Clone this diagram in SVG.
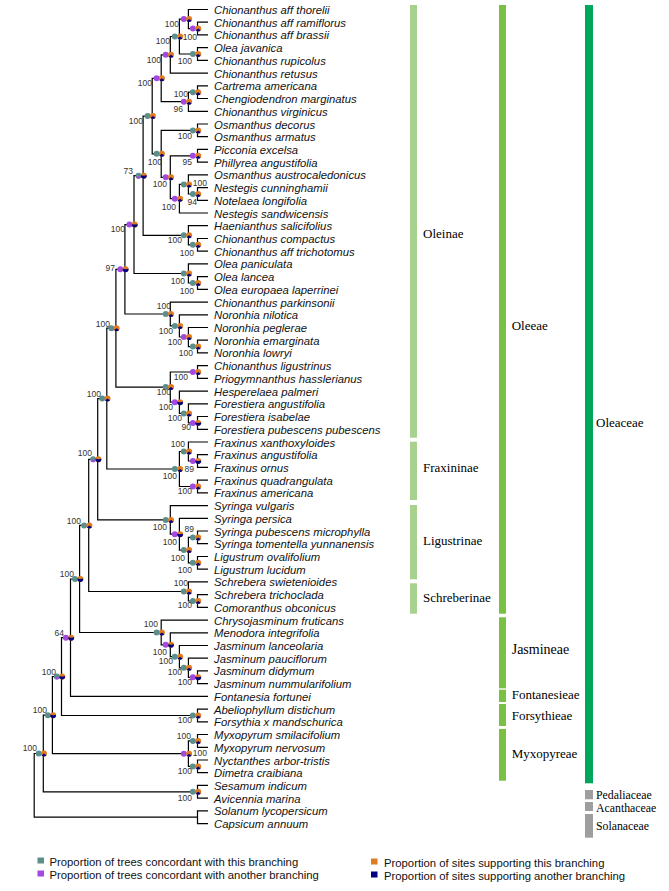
<svg xmlns="http://www.w3.org/2000/svg" width="669" height="891" viewBox="0 0 669 891">
<style>
.tip{font-family:"Liberation Sans",Arial,sans-serif;font-style:italic;font-size:11.3px;fill:#111}
.bs{font-family:"Liberation Sans",Arial,sans-serif;font-size:8.5px;fill:#333;text-anchor:end}
.grp{font-family:"Liberation Serif","Times New Roman",serif;font-size:13px;fill:#000}
.fam{font-family:"Liberation Serif","Times New Roman",serif;font-size:11.8px;fill:#000}
.leg{font-family:"Liberation Sans",Arial,sans-serif;font-size:11.3px;fill:#111}
.edge{fill:none;stroke:#000;stroke-width:1.2}
</style>
<defs>
<g id="gT"><circle r="3" fill="#5a8f8c"/></g>
<g id="gP"><circle r="3" fill="#a349e0"/></g>
<g id="gTP"><circle r="3" fill="#5a8f8c"/><path d="M0,0 L2.427,1.763 A3,3 0 0,1 -2.427,1.763Z" fill="#a349e0"/></g>
<g id="sA"><circle r="3" fill="#e07b20"/><path d="M0,0 L2.427,1.763 A3,3 0 0,1 -2.427,1.763Z" fill="#000080"/></g>
<g id="sB"><circle r="3" fill="#e07b20"/><path d="M0,0 L2.963,-0.469 A3,3 0 1,1 -2.963,-0.469Z" fill="#000080"/></g>
</defs>
<rect width="669" height="891" fill="#fff"/>

<g id="connectors" class="edge">
<path d="M208,22.2 H197.5 V34.9 H208"/>
<path d="M208,9.5 H188.4 V28.6 H197.5"/>
<path d="M208,47.7 H197.5 V60.4 H208"/>
<path d="M188.4,19.05 H179.4 V54 H197.5"/>
<path d="M179.4,36.5 H170.3 V73.1 H208"/>
<path d="M208,85.8 H197.5 V98.5 H208"/>
<path d="M197.5,92.2 H188.4 V111.3 H208"/>
<path d="M170.3,54.8 H161.2 V101.7 H188.4"/>
<path d="M208,124 H197.5 V136.7 H208"/>
<path d="M208,149.4 H197.5 V162.1 H208"/>
<path d="M208,187.6 H197.5 V200.3 H208"/>
<path d="M208,174.9 H188.4 V194 H197.5"/>
<path d="M188.4,184.4 H179.4 V213 H208"/>
<path d="M197.5,155.8 H170.3 V198.7 H179.4"/>
<path d="M197.5,130.4 H161.2 V177.3 H170.3"/>
<path d="M161.2,78.3 H152.2 V153.8 H161.2"/>
<path d="M208,238.5 H197.5 V251.2 H208"/>
<path d="M208,225.7 H188.4 V244.8 H197.5"/>
<path d="M152.2,116.1 H143.1 V235.3 H188.4"/>
<path d="M208,276.6 H197.5 V289.3 H208"/>
<path d="M208,263.9 H188.4 V283 H197.5"/>
<path d="M143.1,175.7 H134 V273.5 H188.4"/>
<path d="M208,340.2 H197.5 V352.9 H208"/>
<path d="M208,327.5 H188.4 V346.6 H197.5"/>
<path d="M208,314.8 H179.4 V337 H188.4"/>
<path d="M208,302.1 H170.3 V325.9 H179.4"/>
<path d="M134,224.6 H124.9 V314 H170.3"/>
<path d="M208,365.7 H197.5 V378.4 H208"/>
<path d="M208,416.5 H197.5 V429.3 H208"/>
<path d="M208,403.8 H188.4 V422.9 H197.5"/>
<path d="M208,391.1 H179.4 V413.4 H188.4"/>
<path d="M197.5,372 H170.3 V402.2 H179.4"/>
<path d="M124.9,269.3 H115.9 V387.1 H170.3"/>
<path d="M208,454.7 H197.5 V467.4 H208"/>
<path d="M208,442 H188.4 V461 H197.5"/>
<path d="M208,480.1 H197.5 V492.9 H208"/>
<path d="M188.4,451.5 H179.4 V486.5 H197.5"/>
<path d="M115.9,328.2 H106.8 V469 H179.4"/>
<path d="M208,531 H197.5 V543.7 H208"/>
<path d="M208,556.5 H197.5 V569.2 H208"/>
<path d="M197.5,537.4 H188.4 V562.8 H197.5"/>
<path d="M208,518.3 H179.4 V550.1 H188.4"/>
<path d="M208,505.6 H170.3 V534.2 H179.4"/>
<path d="M106.8,398.6 H97.7 V519.9 H170.3"/>
<path d="M208,594.6 H197.5 V607.3 H208"/>
<path d="M208,581.9 H188.4 V601 H197.5"/>
<path d="M97.7,459.3 H88.7 V591.5 H188.4"/>
<path d="M208,670.9 H197.5 V683.7 H208"/>
<path d="M208,658.2 H188.4 V677.3 H197.5"/>
<path d="M208,645.5 H179.4 V667.8 H188.4"/>
<path d="M208,632.8 H170.3 V656.7 H179.4"/>
<path d="M208,620.1 H161.2 V644.8 H170.3"/>
<path d="M88.7,525.4 H79.6 V632.5 H161.2"/>
<path d="M79.6,579 H70.5 V696.4 H208"/>
<path d="M208,709.1 H197.5 V721.8 H208"/>
<path d="M70.5,637.7 H61.5 V715.5 H197.5"/>
<path d="M208,734.5 H197.5 V747.3 H208"/>
<path d="M208,760 H197.5 V772.7 H208"/>
<path d="M197.5,740.9 H188.4 V766.4 H197.5"/>
<path d="M61.5,676.6 H52.4 V753.7 H188.4"/>
<path d="M208,785.4 H197.5 V798.1 H208"/>
<path d="M52.4,715.2 H43.3 V791.8 H197.5"/>
<path d="M208,810.9 H197.5 V823.6 H208"/>
<path d="M43.3,753.5 H34.2 V817.2 H197.5"/>
</g>

<g id="internal-nodes">
<g id="n23"><use href="#gP" x="192.9" y="28.6"/><use href="#sA" x="198.2" y="28.6"/><text class="bs" x="197" y="39.7">100</text></g>
<g id="n1-3"><use href="#gP" x="183.8" y="19.05"/><use href="#sA" x="189.1" y="19.05"/><text class="bs" x="179" y="27">100</text></g>
<g id="n45"><use href="#gT" x="192.9" y="54"/><use href="#sA" x="198.2" y="54"/><text class="bs" x="192" y="64">100</text></g>
<g id="n1-5"><use href="#gT" x="174.8" y="36.5"/><use href="#sA" x="180.1" y="36.5"/><text class="bs" x="170" y="44">100</text></g>
<g id="n1-6"><use href="#gP" x="165.7" y="54.8"/><use href="#sA" x="171" y="54.8"/><text class="bs" x="161" y="63">100</text></g>
<g id="n78"><use href="#gT" x="192.9" y="92.2"/><use href="#sA" x="198.2" y="92.2"/><text class="bs" x="188" y="97">100</text></g>
<g id="n7-9"><use href="#gP" x="183.8" y="101.7"/><use href="#sA" x="189.1" y="101.7"/><text class="bs" x="183" y="112">96</text></g>
<g id="n1-9"><use href="#gP" x="156.6" y="78.3"/><use href="#sA" x="161.9" y="78.3"/><text class="bs" x="152" y="85.7">100</text></g>
<g id="n10-11"><use href="#gT" x="192.9" y="130.4"/><use href="#sA" x="198.2" y="130.4"/><text class="bs" x="192" y="138.7">100</text></g>
<g id="n12-13"><use href="#gP" x="192.9" y="155.8"/><use href="#sA" x="198.2" y="155.8"/><text class="bs" x="192" y="164.7">95</text></g>
<g id="n15-16"><use href="#gT" x="192.9" y="194"/><use href="#sA" x="198.2" y="194"/><text class="bs" x="197" y="204.7">94</text></g>
<g id="n14-16"><use href="#gT" x="183.8" y="184.4"/><use href="#sA" x="189.1" y="184.4"/><text class="bs" x="207" y="185.7">100</text></g>
<g id="n14-17"><use href="#gP" x="174.8" y="198.7"/><use href="#sA" x="180.1" y="198.7"/><text class="bs" x="176" y="209.7">100</text></g>
<g id="n12-17"><use href="#gP" x="165.7" y="177.3"/><use href="#sA" x="171" y="177.3"/><text class="bs" x="167" y="187">100</text></g>
<g id="n10-17"><use href="#gT" x="156.6" y="153.8"/><use href="#sA" x="161.9" y="153.8"/><text class="bs" x="162" y="164.7">100</text></g>
<g id="n1-17"><use href="#gT" x="147.6" y="116.1"/><use href="#sA" x="152.9" y="116.1"/><text class="bs" x="143" y="123.7">100</text></g>
<g id="n19-20"><use href="#gT" x="192.9" y="244.8"/><use href="#sA" x="198.2" y="244.8"/><text class="bs" x="194" y="255.7">100</text></g>
<g id="n18-20"><use href="#gT" x="183.8" y="235.3"/><use href="#sA" x="189.1" y="235.3"/><text class="bs" x="182" y="243">100</text></g>
<g id="n1-20"><use href="#gTP" x="138.5" y="175.7"/><use href="#sB" x="143.8" y="175.7"/><text class="bs" x="133" y="174">73</text></g>
<g id="n22-23"><use href="#gT" x="192.9" y="283"/><use href="#sA" x="198.2" y="283"/><text class="bs" x="194" y="293.7">100</text></g>
<g id="n21-23"><use href="#gT" x="183.8" y="273.5"/><use href="#sA" x="189.1" y="273.5"/><text class="bs" x="185" y="284">100</text></g>
<g id="n1-23"><use href="#gP" x="129.4" y="224.6"/><use href="#sB" x="134.7" y="224.6"/><text class="bs" x="125" y="232">100</text></g>
<g id="n27-28"><use href="#gT" x="192.9" y="346.6"/><use href="#sA" x="198.2" y="346.6"/><text class="bs" x="193" y="355.7">100</text></g>
<g id="n26-28"><use href="#gP" x="183.8" y="337"/><use href="#sA" x="189.1" y="337"/><text class="bs" x="182" y="345">100</text></g>
<g id="n25-28"><use href="#gT" x="174.8" y="325.9"/><use href="#sA" x="180.1" y="325.9"/><text class="bs" x="173" y="333.7">100</text></g>
<g id="n24-28"><use href="#gT" x="165.7" y="314"/><use href="#sA" x="171" y="314"/><text class="bs" x="171" y="309">100</text></g>
<g id="n1-28"><use href="#gP" x="120.3" y="269.3"/><use href="#sB" x="125.6" y="269.3"/><text class="bs" x="115" y="271.3">97</text></g>
<g id="n29-30"><use href="#gP" x="192.9" y="372"/><use href="#sA" x="198.2" y="372"/><text class="bs" x="188" y="379.7">100</text></g>
<g id="n33-34"><use href="#gP" x="192.9" y="422.9"/><use href="#sB" x="198.2" y="422.9"/><text class="bs" x="191" y="429.7">90</text></g>
<g id="n32-34"><use href="#gT" x="183.8" y="413.4"/><use href="#sA" x="189.1" y="413.4"/><text class="bs" x="182" y="420.7">100</text></g>
<g id="n31-34"><use href="#gP" x="174.8" y="402.2"/><use href="#sB" x="180.1" y="402.2"/><text class="bs" x="173" y="409.7">100</text></g>
<g id="n29-34"><use href="#gT" x="165.7" y="387.1"/><use href="#sA" x="171" y="387.1"/><text class="bs" x="171" y="394.7">100</text></g>
<g id="n1-34"><use href="#gT" x="111.3" y="328.2"/><use href="#sA" x="116.6" y="328.2"/><text class="bs" x="110" y="327">100</text></g>
<g id="n36-37"><use href="#gP" x="192.9" y="461"/><use href="#sB" x="198.2" y="461"/><text class="bs" x="194" y="472">89</text></g>
<g id="n35-37"><use href="#gT" x="183.8" y="451.5"/><use href="#sA" x="189.1" y="451.5"/><text class="bs" x="185" y="447">100</text></g>
<g id="n38-39"><use href="#gP" x="192.9" y="486.5"/><use href="#sA" x="198.2" y="486.5"/><text class="bs" x="192" y="494">100</text></g>
<g id="n35-39"><use href="#gT" x="174.8" y="469"/><use href="#sA" x="180.1" y="469"/><text class="bs" x="177" y="478.7">100</text></g>
<g id="n1-39"><use href="#gT" x="102.2" y="398.6"/><use href="#sA" x="107.5" y="398.6"/><text class="bs" x="101" y="397">100</text></g>
<g id="n42-43"><use href="#gT" x="192.9" y="537.4"/><use href="#sA" x="198.2" y="537.4"/><text class="bs" x="194" y="532">89</text></g>
<g id="n44-45"><use href="#gT" x="192.9" y="562.8"/><use href="#sA" x="198.2" y="562.8"/><text class="bs" x="192" y="573">100</text></g>
<g id="n42-45"><use href="#gT" x="183.8" y="550.1"/><use href="#sA" x="189.1" y="550.1"/><text class="bs" x="185" y="560.7">100</text></g>
<g id="n41-45"><use href="#gP" x="174.8" y="534.2"/><use href="#sB" x="180.1" y="534.2"/><text class="bs" x="177" y="544.7">100</text></g>
<g id="n40-45"><use href="#gT" x="165.7" y="519.9"/><use href="#sA" x="171" y="519.9"/><text class="bs" x="167" y="529.7">100</text></g>
<g id="n1-45"><use href="#gTP" x="93.1" y="459.3"/><use href="#sB" x="98.4" y="459.3"/><text class="bs" x="92" y="455.7">100</text></g>
<g id="n47-48"><use href="#gT" x="192.9" y="601"/><use href="#sA" x="198.2" y="601"/><text class="bs" x="192" y="608">100</text></g>
<g id="n46-48"><use href="#gT" x="183.8" y="591.5"/><use href="#sA" x="189.1" y="591.5"/><text class="bs" x="188" y="585.7">100</text></g>
<g id="n1-48"><use href="#gT" x="84.1" y="525.4"/><use href="#sA" x="89.4" y="525.4"/><text class="bs" x="81" y="523.7">100</text></g>
<g id="n53-54"><use href="#gP" x="192.9" y="677.3"/><use href="#sB" x="198.2" y="677.3"/><text class="bs" x="192" y="684.7">100</text></g>
<g id="n52-54"><use href="#gT" x="183.8" y="667.8"/><use href="#sA" x="189.1" y="667.8"/><text class="bs" x="182" y="675.3">100</text></g>
<g id="n51-54"><use href="#gT" x="174.8" y="656.7"/><use href="#sA" x="180.1" y="656.7"/><text class="bs" x="173" y="663.7">100</text></g>
<g id="n50-54"><use href="#gP" x="165.7" y="644.8"/><use href="#sB" x="171" y="644.8"/><text class="bs" x="167" y="654.7">100</text></g>
<g id="n49-54"><use href="#gT" x="156.6" y="632.5"/><use href="#sA" x="161.9" y="632.5"/><text class="bs" x="158" y="627">100</text></g>
<g id="n1-54"><use href="#gT" x="75" y="579"/><use href="#sB" x="80.3" y="579"/><text class="bs" x="74" y="577">100</text></g>
<g id="n1-55"><use href="#gP" x="65.9" y="637.7"/><use href="#sB" x="71.2" y="637.7"/><text class="bs" x="64" y="635.7">64</text></g>
<g id="n56-57"><use href="#gT" x="192.9" y="715.5"/><use href="#sA" x="198.2" y="715.5"/><text class="bs" x="192" y="723">100</text></g>
<g id="n1-57"><use href="#gTP" x="56.9" y="676.6"/><use href="#sB" x="62.2" y="676.6"/><text class="bs" x="56" y="675.3">100</text></g>
<g id="n58-59"><use href="#gT" x="192.9" y="740.9"/><use href="#sA" x="198.2" y="740.9"/><text class="bs" x="191" y="739">100</text></g>
<g id="n60-61"><use href="#gT" x="192.9" y="766.4"/><use href="#sA" x="198.2" y="766.4"/><text class="bs" x="192" y="773.7">100</text></g>
<g id="n58-61"><use href="#gP" x="183.8" y="753.7"/><use href="#sA" x="189.1" y="753.7"/><text class="bs" x="207" y="756.3">100</text></g>
<g id="n1-61"><use href="#gT" x="47.8" y="715.2"/><use href="#sB" x="53.1" y="715.2"/><text class="bs" x="47" y="713">100</text></g>
<g id="n62-63"><use href="#gT" x="192.9" y="791.8"/><use href="#sA" x="198.2" y="791.8"/><text class="bs" x="192" y="800.7">100</text></g>
<g id="n1-63"><use href="#gT" x="38.7" y="753.5"/><use href="#sA" x="44" y="753.5"/><text class="bs" x="37" y="751.3">100</text></g>
</g>

<g id="leaves" class="tip">
<g id="leaf01"><text x="214" y="14">Chionanthus aff thorelii</text></g>
<g id="leaf02"><text x="214" y="26.7">Chionanthus aff ramiflorus</text></g>
<g id="leaf03"><text x="214" y="39.4">Chionanthus aff brassii</text></g>
<g id="leaf04"><text x="214" y="52.2">Olea javanica</text></g>
<g id="leaf05"><text x="214" y="64.9">Chionanthus rupicolus</text></g>
<g id="leaf06"><text x="214" y="77.6">Chionanthus retusus</text></g>
<g id="leaf07"><text x="214" y="90.3">Cartrema americana</text></g>
<g id="leaf08"><text x="214" y="103">Chengiodendron marginatus</text></g>
<g id="leaf09"><text x="214" y="115.8">Chionanthus virginicus</text></g>
<g id="leaf10"><text x="214" y="128.5">Osmanthus decorus</text></g>
<g id="leaf11"><text x="214" y="141.2">Osmanthus armatus</text></g>
<g id="leaf12"><text x="214" y="153.9">Picconia excelsa</text></g>
<g id="leaf13"><text x="214" y="166.6">Phillyrea angustifolia</text></g>
<g id="leaf14"><text x="214" y="179.4">Osmanthus austrocaledonicus</text></g>
<g id="leaf15"><text x="214" y="192.1">Nestegis cunninghamii</text></g>
<g id="leaf16"><text x="214" y="204.8">Notelaea longifolia</text></g>
<g id="leaf17"><text x="214" y="217.5">Nestegis sandwicensis</text></g>
<g id="leaf18"><text x="214" y="230.2">Haenianthus salicifolius</text></g>
<g id="leaf19"><text x="214" y="243">Chionanthus compactus</text></g>
<g id="leaf20"><text x="214" y="255.7">Chionanthus aff trichotomus</text></g>
<g id="leaf21"><text x="214" y="268.4">Olea paniculata</text></g>
<g id="leaf22"><text x="214" y="281.1">Olea lancea</text></g>
<g id="leaf23"><text x="214" y="293.8">Olea europaea laperrinei</text></g>
<g id="leaf24"><text x="214" y="306.6">Chionanthus parkinsonii</text></g>
<g id="leaf25"><text x="214" y="319.3">Noronhia nilotica</text></g>
<g id="leaf26"><text x="214" y="332">Noronhia peglerae</text></g>
<g id="leaf27"><text x="214" y="344.7">Noronhia emarginata</text></g>
<g id="leaf28"><text x="214" y="357.4">Noronhia lowryi</text></g>
<g id="leaf29"><text x="214" y="370.2">Chionanthus ligustrinus</text></g>
<g id="leaf30"><text x="214" y="382.9">Priogymnanthus hasslerianus</text></g>
<g id="leaf31"><text x="214" y="395.6">Hesperelaea palmeri</text></g>
<g id="leaf32"><text x="214" y="408.3">Forestiera angustifolia</text></g>
<g id="leaf33"><text x="214" y="421">Forestiera isabelae</text></g>
<g id="leaf34"><text x="214" y="433.8">Forestiera pubescens pubescens</text></g>
<g id="leaf35"><text x="214" y="446.5">Fraxinus xanthoxyloides</text></g>
<g id="leaf36"><text x="214" y="459.2">Fraxinus angustifolia</text></g>
<g id="leaf37"><text x="214" y="471.9">Fraxinus ornus</text></g>
<g id="leaf38"><text x="214" y="484.6">Fraxinus quadrangulata</text></g>
<g id="leaf39"><text x="214" y="497.4">Fraxinus americana</text></g>
<g id="leaf40"><text x="214" y="510.1">Syringa vulgaris</text></g>
<g id="leaf41"><text x="214" y="522.8">Syringa persica</text></g>
<g id="leaf42"><text x="214" y="535.5">Syringa pubescens microphylla</text></g>
<g id="leaf43"><text x="214" y="548.2">Syringa tomentella yunnanensis</text></g>
<g id="leaf44"><text x="214" y="561">Ligustrum ovalifolium</text></g>
<g id="leaf45"><text x="214" y="573.7">Ligustrum lucidum</text></g>
<g id="leaf46"><text x="214" y="586.4">Schrebera swietenioides</text></g>
<g id="leaf47"><text x="214" y="599.1">Schrebera trichoclada</text></g>
<g id="leaf48"><text x="214" y="611.8">Comoranthus obconicus</text></g>
<g id="leaf49"><text x="214" y="624.6">Chrysojasminum fruticans</text></g>
<g id="leaf50"><text x="214" y="637.3">Menodora integrifolia</text></g>
<g id="leaf51"><text x="214" y="650">Jasminum lanceolaria</text></g>
<g id="leaf52"><text x="214" y="662.7">Jasminum pauciflorum</text></g>
<g id="leaf53"><text x="214" y="675.4">Jasminum didymum</text></g>
<g id="leaf54"><text x="214" y="688.2">Jasminum nummularifolium</text></g>
<g id="leaf55"><text x="214" y="700.9">Fontanesia fortunei</text></g>
<g id="leaf56"><text x="214" y="713.6">Abeliophyllum distichum</text></g>
<g id="leaf57"><text x="214" y="726.3">Forsythia x mandschurica</text></g>
<g id="leaf58"><text x="214" y="739">Myxopyrum smilacifolium</text></g>
<g id="leaf59"><text x="214" y="751.8">Myxopyrum nervosum</text></g>
<g id="leaf60"><text x="214" y="764.5">Nyctanthes arbor-tristis</text></g>
<g id="leaf61"><text x="214" y="777.2">Dimetra craibiana</text></g>
<g id="leaf62"><text x="214" y="789.9">Sesamum indicum</text></g>
<g id="leaf63"><text x="214" y="802.6">Avicennia marina</text></g>
<g id="leaf64"><text x="214" y="815.4">Solanum lycopersicum</text></g>
<g id="leaf65"><text x="214" y="828.1">Capsicum annuum</text></g>
</g>

<g id="clades">
<g id="oleinae"><rect x="410" y="5" width="7" height="432.7" fill="#a9d18e"/><text class="grp" x="423" y="238">Oleinae</text></g>
<g id="fraxininae"><rect x="410" y="441.7" width="7" height="58.3" fill="#a9d18e"/><text class="grp" x="423" y="472">Fraxininae</text></g>
<g id="ligustrinae"><rect x="410" y="505" width="7" height="74.3" fill="#a9d18e"/><text class="grp" x="423" y="544.5">Ligustrinae</text></g>
<g id="schreberinae"><rect x="410" y="583.3" width="7" height="30.4" fill="#a9d18e"/><text class="grp" x="423" y="601.6">Schreberinae</text></g>
<g id="oleeae"><rect x="499" y="5" width="7" height="608.7" fill="#7ac143"/><text class="grp" x="511.7" y="330">Oleeae</text></g>
<g id="jasmineae"><rect x="499" y="617.3" width="7" height="71" fill="#7ac143"/><text class="grp" x="511.7" y="653.5" style="font-size:14px">Jasmineae</text></g>
<g id="fontanesieae"><rect x="499" y="689.7" width="7" height="12.3" fill="#7ac143"/><text class="grp" x="511.7" y="698.5">Fontanesieae</text></g>
<g id="forsythieae"><rect x="499" y="704" width="7" height="22" fill="#7ac143"/><text class="grp" x="511.7" y="719.5">Forsythieae</text></g>
<g id="myxopyreae"><rect x="499" y="729" width="7" height="51.7" fill="#7ac143"/><text class="grp" x="511.7" y="757.5">Myxopyreae</text></g>
<g id="oleaceae"><rect x="585" y="5" width="8" height="778.3" fill="#00a65a"/><text class="grp" x="596" y="426.5">Oleaceae</text></g>
<g id="pedaliaceae"><rect x="585" y="790" width="8" height="9.3" fill="#9e9e9e"/><text class="fam" x="596" y="798.6">Pedaliaceae</text></g>
<g id="acanthaceae"><rect x="585" y="802" width="8" height="9" fill="#9e9e9e"/><text class="fam" x="596" y="811.6">Acanthaceae</text></g>
<g id="solanaceae"><rect x="585" y="814" width="8" height="23.7" fill="#9e9e9e"/><text class="fam" x="596" y="829.5">Solanaceae</text></g>
</g>

<g id="legend">
<rect x="37.5" y="857.5" width="6.5" height="6" fill="#5a8f8c"/>
<text class="leg" x="49.5" y="866.3">Proportion of trees concordant with this branching</text>
<rect x="37.5" y="870.5" width="6.5" height="6" fill="#a349e0"/>
<text class="leg" x="49.5" y="879">Proportion of trees concordant with another branching</text>
<rect x="371" y="858.5" width="6.5" height="6" fill="#e07b20"/>
<text class="leg" x="384" y="867.3">Proportion of sites supporting this branching</text>
<rect x="371" y="871.5" width="6.5" height="6" fill="#000080"/>
<text class="leg" x="384" y="880">Proportion of sites supporting another branching</text>
</g>
</svg>
